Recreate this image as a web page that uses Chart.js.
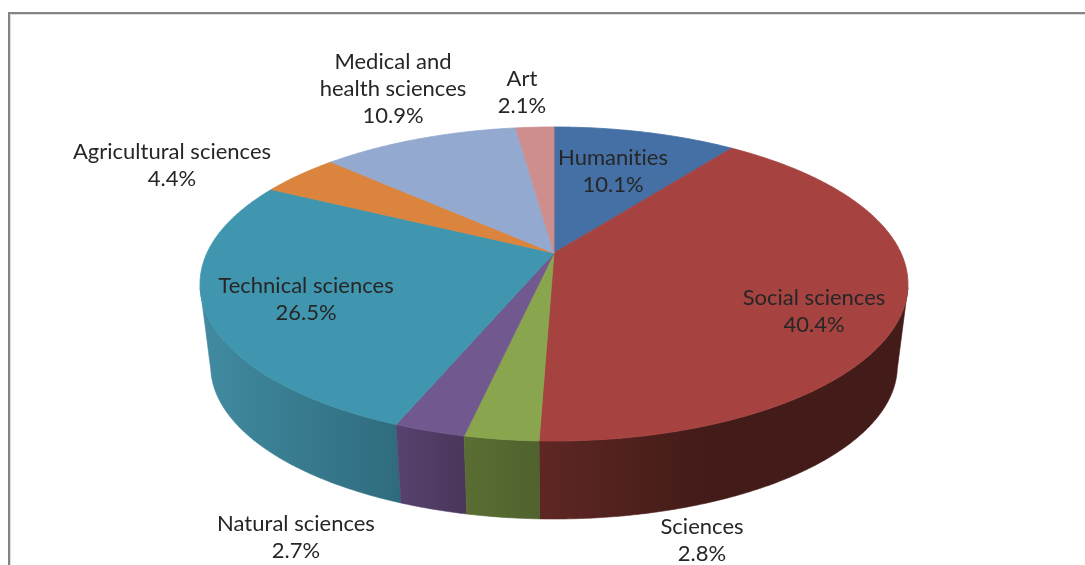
<!DOCTYPE html>
<html>
<head>
<meta charset="utf-8">
<style>html,body{margin:0;padding:0;background:#fff;overflow:hidden}canvas{display:block}</style>
<script src="https://cdn.jsdelivr.net/npm/chart.js@4"></script>
</head>
<body>
<canvas id="c" width="1085" height="565"></canvas>
<script>
const categories = ['Humanities','Social sciences','Sciences','Natural sciences','Technical sciences','Agricultural sciences','Medical and health sciences','Art'];
const shares = [10.1,40.4,2.8,2.7,26.5,4.4,10.9,2.1];
const topColors = ['#4470a5','#a64341','#89a54e','#71588f','#4096ae','#db843d','#93a9cf','#ce8e8d'];
const wallStart = ['#2b4669','#5e2724','#5a6e33','#57426f','#418ba1','#8c5427','#5e6c85','#84595a'];
const wallEnd   = ['#2b4669','#431b18','#50622d','#493659','#2f6b7d','#8c5427','#5e6c85','#84595a'];

// label text lines and their centre / first-line positions
const labelLines = [['Humanities'],['Social sciences'],['Sciences'],['Natural sciences'],['Technical sciences'],['Agricultural sciences'],['Medical and','health sciences'],['Art']];
const labelAnchors = [[613,158],[814,298],[702,527],[296,524],[306,286],[172,152],[393,62],[522,79]];
const lineHeight = 27;

// perspective projection of the pie disc
const apex = {x:554, y:253}, spanX = 347, spanY = 150.9, tilt = 0.1974;
const floorScale = 0.97, floorDrop = 82.7;
function project(t){
  const u = Math.cos(t), v = Math.sin(t), d = 1 - tilt*v;
  return {x: apex.x + spanX*u/d, y: apex.y + spanY*v/d};
}
function lower(p){
  return {x: apex.x + floorScale*(p.x-apex.x), y: apex.y + floorDrop + 0.975*(p.y-apex.y)};
}
const STEP = Math.PI/360;
function samples(a,b){
  const out=[]; const n=Math.max(2,Math.ceil((b-a)/STEP));
  for(let i=0;i<=n;i++) out.push(a+(b-a)*i/n);
  return out;
}

const pie3d = {
  id:'pie3d',
  beforeDraw(chart){
    const ctx=chart.ctx;
    ctx.save();
    ctx.fillStyle='#fff'; ctx.fillRect(0,0,chart.width,chart.height);
    ctx.strokeStyle='#848484'; ctx.lineWidth=2;
    ctx.beginPath(); ctx.moveTo(9,chart.height+2); ctx.lineTo(9,13); ctx.lineTo(chart.width+2,13); ctx.stroke();
    ctx.strokeStyle='#dcdcdc'; ctx.lineWidth=1;
    ctx.beginPath(); ctx.moveTo(10.5,chart.height+2); ctx.lineTo(10.5,14.5); ctx.lineTo(chart.width+2,14.5); ctx.stroke();
    ctx.restore();
  },
  beforeDatasetDraw(chart,args){
    const ctx=chart.ctx, arcs=args.meta.data;
    ctx.save();
    // side walls, outermost first
    const lo=0.22, hi=Math.PI-0.22, mid=Math.PI/2;
    const order=arcs.map((a,i)=>i).sort((p,q)=>{
      const m=i=>Math.abs((arcs[i].startAngle+arcs[i].endAngle)/2-mid);
      return m(q)-m(p);
    });
    order.forEach(i=>{
      const a=Math.max(arcs[i].startAngle,lo), b=Math.min(arcs[i].endAngle,hi);
      if(b<=a) return;
      const top=samples(a,b).map(project), bot=top.map(lower);
      const xs=top.concat(bot).map(p=>p.x);
      const x0=Math.min(...xs), x1=Math.max(...xs);
      const g=ctx.createLinearGradient(x0,0,x1,0);
      const leftSide = (a+b)/2 > mid;
      g.addColorStop(0, wallStart[i]);
      g.addColorStop(leftSide?1:0.45, wallEnd[i]);
      if(!leftSide) g.addColorStop(1, wallEnd[i]);
      ctx.fillStyle=g;
      ctx.beginPath();
      top.forEach((p,k)=>k?ctx.lineTo(p.x,p.y):ctx.moveTo(p.x,p.y));
      bot.reverse().forEach(p=>ctx.lineTo(p.x,p.y));
      ctx.closePath(); ctx.fill();
      ctx.strokeStyle=g; ctx.lineWidth=0.6; ctx.stroke();
    });
    // top surface
    arcs.forEach((arc,i)=>{
      const pts=samples(arc.startAngle,arc.endAngle).map(project);
      ctx.beginPath(); ctx.moveTo(apex.x,apex.y);
      pts.forEach(p=>ctx.lineTo(p.x,p.y));
      ctx.closePath();
      ctx.fillStyle=topColors[i]; ctx.fill();
      ctx.strokeStyle=topColors[i]; ctx.lineWidth=0.8; ctx.stroke();
    });
    ctx.restore();
    return false;
  },
  afterDraw(chart){
    const ctx=chart.ctx;
    ctx.save();
    ctx.font='22px Lato';
    ctx.letterSpacing='0.01px';
    ctx.filter='blur(0.35px)';
    ctx.fillStyle='#262626';
    ctx.textAlign='center'; ctx.textBaseline='middle';
    categories.forEach((c,i)=>{
      const [x,y]=labelAnchors[i];
      const lines=labelLines[i].concat(shares[i].toFixed(1)+'%');
      lines.forEach((t,k)=>ctx.fillText(t,x,y+k*lineHeight));
    });
    ctx.restore();
  }
};

new Chart(document.getElementById('c'),{
  type:'pie',
  data:{labels:categories,datasets:[{data:shares,backgroundColor:topColors,borderWidth:0}]},
  options:{
    responsive:false,animation:false,
    plugins:{legend:{display:false},tooltip:{enabled:false}}
  },
  plugins:[pie3d]
});
</script>
</body>
</html>
